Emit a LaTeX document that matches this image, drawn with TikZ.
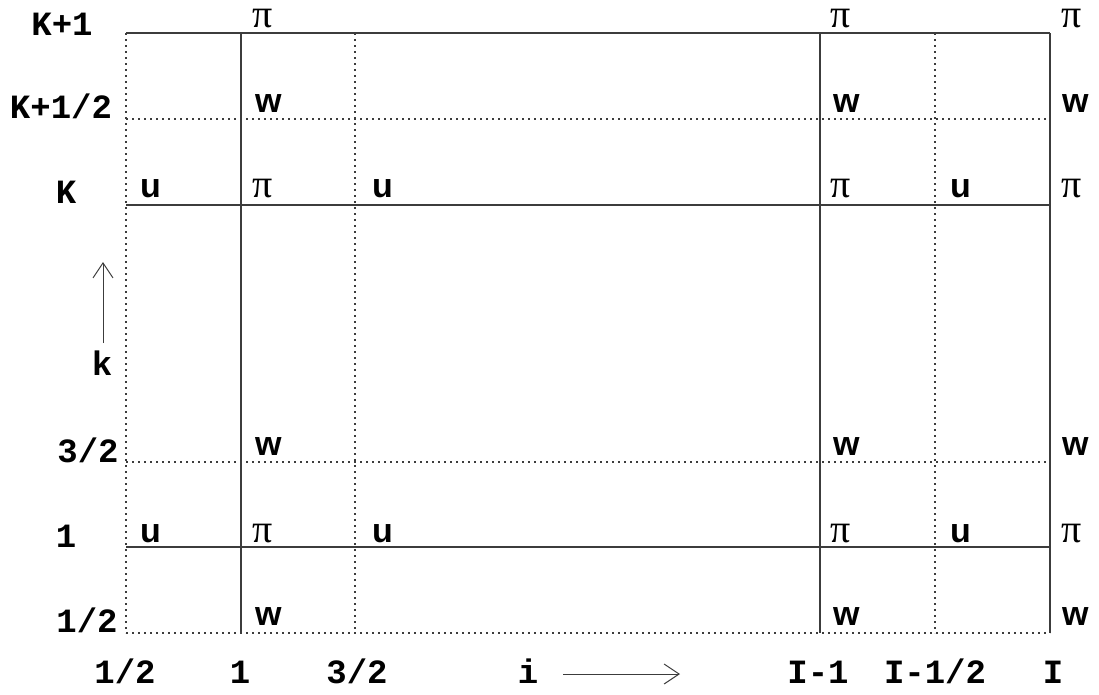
\documentclass[tikz,border=0pt]{standalone}
\usepackage{fontspec}
\setmainfont{Liberation Serif}
\setsansfont{Liberation Sans}
\setmonofont{Liberation Mono}
\usetikzlibrary{arrows.meta}
\definecolor{Grid}{HTML}{3C3C3C}
\definecolor{Ink}{HTML}{000000}

\begin{document}
\begin{tikzpicture}[
  x=1pt, y=-1pt,
  idx/.style={font=\fontsize{34}{40}\selectfont\ttfamily\bfseries, text=Ink, anchor=base, inner sep=0pt},
  fld/.style={font=\fontsize{34}{40}\selectfont\sffamily\bfseries, text=Ink, anchor=base west, inner sep=0pt},
  prs/.style={font=\fontsize{40}{44}\selectfont\rmfamily, text=Ink, anchor=base west, inner sep=0pt, text height=19pt, text depth=0pt},
  cell/.style={draw=Grid, line width=1.4pt},
  half/.style={draw=Grid, line width=1.6pt, dash pattern=on 1.6pt off 4.4pt},
  axis/.style={-{Straight Barb[length=15pt,width=20pt]}, line width=1pt, draw=Grid},
]
\useasboundingbox (0,0) rectangle (1099,694);

% staggered half levels and half columns
\draw[half] (126,119) -- (1050,119);
\draw[half] (126,462) -- (1050,462);
\draw[half] (126,633) -- (1050,633);
\draw[half] (126,33) -- (126,633);
\draw[half] (355,33) -- (355,633);
\draw[half] (935,33) -- (935,633);

% full levels and full columns
\draw[cell] (126,33) -- (1050,33);
\draw[cell] (126,205) -- (1050,205);
\draw[cell] (126,547) -- (1050,547);
\draw[cell] (241,33) -- (241,633);
\draw[cell] (820,33) -- (820,633);
\draw[cell] (1050,33) -- (1050,633);

% vertical index
\node[idx] (kp1) at (62,35) {K+1};
\node[idx] (kph) at (61,118) {K+1/2};
\node[idx] (kk) at (66,203) {K};
\node[idx] (k32) at (88,462) {3/2};
\node[idx] (k1) at (66,547) {1};
\node[idx] (k12) at (87,632) {1/2};
\node[idx] (k) at (102,375) {k};
\coordinate (ktip) at (103,262);
\draw[axis, shorten <=7pt] (k.north -| ktip) -- (ktip);

% horizontal index
\node[idx] (i12) at (125,683) {1/2};
\node[idx] (i1) at (240,683) {1};
\node[idx] (i32) at (357,683) {3/2};
\node[idx] (i) at (528,683) {i};
\node[idx] (im1) at (818,683) {I-1};
\node[idx] (imh) at (935,683) {I-1/2};
\node[idx] (iI) at (1053,683) {I};
\coordinate (itip) at (680,674);
\draw[axis, shorten <=25pt] (i.east |- itip) -- (itip);

% top level
\node[prs] (p1t) at (252,27) {π};
\node[prs] (p2t) at (830,27) {π};
\node[prs] (p3t) at (1061,27) {π};

% level K+1/2
\node[fld] (w1a) at (255,112) {w};
\node[fld] (w2a) at (833,112) {w};
\node[fld] (w3a) at (1062,112) {w};

% level K
\node[fld] (u1a) at (140,197) {u};
\node[prs] (p1a) at (252,197) {π};
\node[fld] (u2a) at (372,197) {u};
\node[prs] (p2a) at (830,197) {π};
\node[fld] (u3a) at (950,197) {u};
\node[prs] (p3a) at (1061,197) {π};

% level 3/2
\node[fld] (w1b) at (255,455) {w};
\node[fld] (w2b) at (833,455) {w};
\node[fld] (w3b) at (1062,455) {w};

% level 1
\node[fld] (u1b) at (140,542) {u};
\node[prs] (p1b) at (252,542) {π};
\node[fld] (u2b) at (372,542) {u};
\node[prs] (p2b) at (830,542) {π};
\node[fld] (u3b) at (950,542) {u};
\node[prs] (p3b) at (1061,542) {π};

% level 1/2
\node[fld] (w1c) at (255,625) {w};
\node[fld] (w2c) at (833,625) {w};
\node[fld] (w3c) at (1062,625) {w};
\end{tikzpicture}
\end{document}
